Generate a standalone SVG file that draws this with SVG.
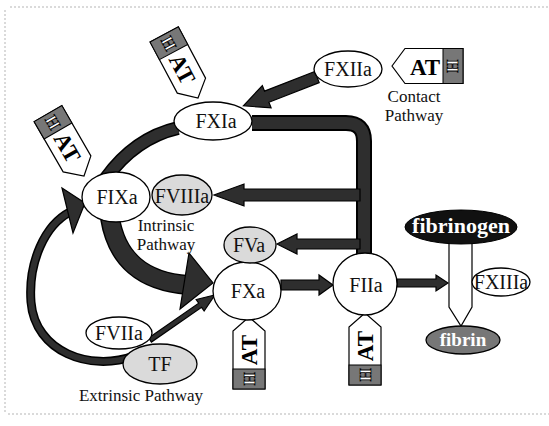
<svg xmlns="http://www.w3.org/2000/svg" width="549" height="426" viewBox="0 0 549 426">
<defs>
<style>
.n{fill:#fff;stroke:#000;stroke-width:1.3}
.st{fill:#dadada;stroke:#000;stroke-width:1.3}
.t{font-family:"Liberation Serif","Times New Roman",serif;font-size:20px;fill:#111;text-anchor:middle}
.lb{font-family:"Liberation Serif","Times New Roman",serif;font-size:17px;fill:#111;text-anchor:middle}
.bw{font-family:"Liberation Serif","Times New Roman",serif;font-weight:bold;fill:#fff;text-anchor:middle}
.ar{fill:#2e2e2e;stroke:#000;stroke-width:1.2}
.band{fill:none;stroke:#2e2e2e}
.tag{fill:#fff;stroke:#000;stroke-width:1.2}
.tg{fill:#777;stroke:#000;stroke-width:1}
.at{font-family:"Liberation Serif","Times New Roman",serif;font-weight:bold;font-size:23px;fill:#000;text-anchor:middle}
.h{font-family:"Liberation Serif","Times New Roman",serif;font-weight:bold;font-size:17px;fill:#fff;stroke:#000;stroke-width:0.8;text-anchor:middle}
</style>
<g id="hat">
<polygon class="tag" points="0,0 -14,-16 -72,-16 -72,16 -14,16"/>
<rect class="tg" x="-72" y="-16" width="20" height="32"/>
<text class="h" x="-62" y="6">H</text>
<text class="at" x="-33" y="8">AT</text>
</g>
</defs>
<path d="M10 7 H549 M5 10 V414 M8 414 H549" fill="none" stroke="#b5b5b5" stroke-width="1" stroke-dasharray="2 2"/>
<g id="connectors">
<path d="M134 356 C90 372 35 352 31 302 C28 262 45 225 70 212" fill="none" stroke="#000" stroke-width="9"/>
<path d="M134 356 C90 372 35 352 31 302 C28 262 45 225 70 212" fill="none" stroke="#2e2e2e" stroke-width="6"/>
<polygon class="ar" points="62,188 85,203 73,233"/>
<path d="M110 218 Q120 280 188 285" fill="none" stroke="#000" stroke-width="20"/>
<path d="M110 218 Q120 280 188 285" class="band" stroke-width="17"/>
<polygon class="ar" points="189,253 213,283 180,309"/>
<path d="M178 128 Q135 138 106 178" fill="none" stroke="#000" stroke-width="14"/>
<path d="M178 128 Q135 138 106 178" class="band" stroke-width="11"/>
<polygon class="ar" transform="translate(317,77) rotate(158.6)" points="0,-6 54,-6 54,-12 79,0 54,12 54,6 0,6"/>
<path d="M252 123 H346 Q364 123 364 141 V254" fill="none" stroke="#000" stroke-width="16"/>
<path d="M252 123 H346 Q364 123 364 141 V254" class="band" stroke-width="12"/>
<polygon class="ar" transform="translate(360,195) rotate(180)" points="0,-6 116,-6 116,-11 146,0 116,11 116,6 0,6"/>
<polygon class="ar" transform="translate(360,244) rotate(180)" points="0,-5 63,-5 63,-10 83,0 63,10 63,5 0,5"/>
<polygon class="ar" transform="translate(281,285)" points="0,-5 38,-5 38,-10 52,0 38,10 38,5 0,5"/>
<polygon class="ar" transform="translate(397,283)" points="0,-4 39,-4 39,-8 51,0 39,8 39,4 0,4"/>
<polygon class="ar" transform="translate(150,340) rotate(-34.7)" points="0,-2.5 61,-2.5 61,-7 79,0 61,7 61,2.5 0,2.5"/>
<polygon class="tag" points="449,236 472,236 472,307 461,326 449,307"/>
</g>
<g id="tag-fxia"><use href="#hat" transform="translate(198,98) rotate(62)"/></g>
<g id="tag-fixa"><use href="#hat" transform="translate(84,176) rotate(60)"/></g>
<g id="tag-fxa"><use href="#hat" transform="translate(249,317) rotate(-90)"/></g>
<g id="tag-fiia"><use href="#hat" transform="translate(365,313) rotate(-90)"/></g>
<g id="tag-at">
<polygon class="tag" points="392,66 405,48.5 463,48.5 463,83.5 405,83.5"/>
<rect class="tg" x="443" y="48.5" width="20" height="35"/>
<text class="h" transform="translate(453,66) rotate(90)" x="0" y="6">H</text>
<text class="at" x="425" y="75" font-size="26">AT</text>
</g>
<g id="fxiia"><ellipse class="n" cx="348" cy="69" rx="34" ry="18"/><text class="t" x="348" y="76" font-size="21">FXIIa</text></g>
<g id="contact"><text class="lb" x="414" y="102">Contact</text><text class="lb" x="414" y="121">Pathway</text></g>
<g id="fxia"><ellipse class="n" cx="213" cy="121" rx="39" ry="19"/><text class="t" x="216" y="128" font-size="21">FXIa</text></g>
<g id="fixa"><ellipse class="n" cx="116" cy="197" rx="34" ry="25"/><text class="t" x="117" y="204">FIXa</text></g>
<g id="fviiia"><ellipse class="st" cx="182" cy="195" rx="30" ry="20"/><text class="t" x="182" y="203">FVIIIa</text></g>
<g id="intrinsic"><text class="lb" x="166" y="231" font-size="16">Intrinsic</text><text class="lb" x="166" y="250" font-size="16">Pathway</text></g>
<g id="fxa"><ellipse class="n" cx="247" cy="291" rx="34" ry="29"/><text class="t" x="248" y="298">FXa</text></g>
<g id="fva"><ellipse class="st" cx="250" cy="245" rx="26" ry="18"/><text class="t" x="249" y="252" font-size="21">FVa</text></g>
<g id="fiia"><ellipse class="n" cx="365" cy="284" rx="32" ry="31"/><text class="t" x="366" y="292" font-size="19">FIIa</text></g>
<g id="fibrinogen"><ellipse cx="461" cy="227" rx="56" ry="17" fill="#111" stroke="#000"/><text class="bw" x="461" y="233" font-size="22">fibrinogen</text></g>
<g id="fxiiia"><ellipse class="n" cx="501" cy="282" rx="29" ry="14"/><text class="t" x="501" y="289" font-size="19">FXIIIa</text></g>
<g id="fibrin"><ellipse cx="463" cy="340" rx="37" ry="14" fill="#777" stroke="#000" stroke-width="1.3"/><text class="bw" x="463" y="346" font-size="19">fibrin</text></g>
<g id="fviia"><ellipse class="n" cx="119" cy="333" rx="33" ry="16"/><text class="t" x="119" y="340">FVIIa</text></g>
<g id="tf"><ellipse class="st" cx="160" cy="364" rx="37" ry="20"/><text class="t" x="160" y="371" font-size="21">TF</text></g>
<g id="extrinsic"><text class="lb" x="141" y="401">Extrinsic Pathway</text></g>
</svg>
